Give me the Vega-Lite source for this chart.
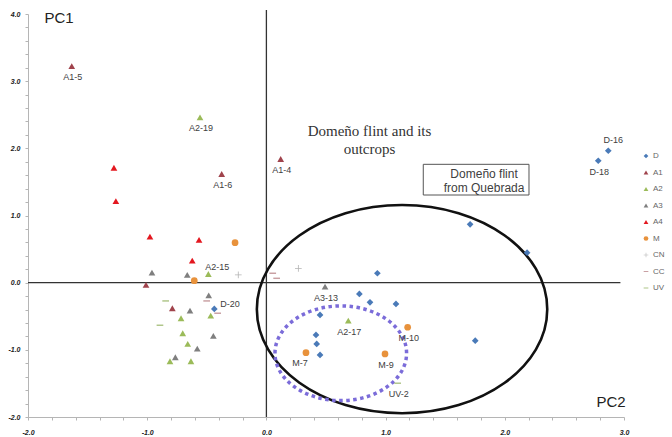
{
  "$schema": "https://vega.github.io/schema/vega-lite/v6.json",
  "width": 596,
  "height": 403,
  "autosize": {"type": "none"},
  "padding": {"left": 28, "top": 14, "right": 48, "bottom": 20},
  "background": "white",
  "config": {
    "view": {"stroke": null},
    "font": "Liberation Sans",
    "axis": {
      "grid": false,
      "title": null,
      "domainColor": "#b5b5b5",
      "tickColor": "#b5b5b5",
      "tickSize": 3,
      "labelFont": "Liberation Sans",
      "labelFontSize": 7,
      "labelFontStyle": "italic",
      "labelFontWeight": "bold",
      "labelColor": "#222222",
      "labelOverlap": false,
      "labelFlush": false,
      "labelBound": false
    }
  },
  "datasets": {
    "pts": [
      {"group": "D", "pc2": 2.868, "pc1": 1.964, "label": "D-16"},
      {"group": "D", "pc2": 2.784, "pc1": 1.815, "label": "D-18"},
      {"group": "D", "pc2": 1.709, "pc1": 0.868, "label": ""},
      {"group": "D", "pc2": 2.187, "pc1": 0.446, "label": ""},
      {"group": "D", "pc2": 0.931, "pc1": 0.140, "label": ""},
      {"group": "D", "pc2": 0.780, "pc1": -0.168, "label": ""},
      {"group": "D", "pc2": 0.869, "pc1": -0.292, "label": ""},
      {"group": "D", "pc2": 1.087, "pc1": -0.317, "label": ""},
      {"group": "D", "pc2": 0.450, "pc1": -0.481, "label": ""},
      {"group": "D", "pc2": 0.416, "pc1": -0.778, "label": ""},
      {"group": "D", "pc2": 0.422, "pc1": -0.912, "label": ""},
      {"group": "D", "pc2": 0.450, "pc1": -1.076, "label": ""},
      {"group": "D", "pc2": 1.752, "pc1": -0.863, "label": ""},
      {"group": "D", "pc2": -0.437, "pc1": -0.391, "label": "D-20"},
      {"group": "A1", "pc2": -1.633, "pc1": 3.225, "label": "A1-5"},
      {"group": "A1", "pc2": -0.375, "pc1": 1.618, "label": "A1-6"},
      {"group": "A1", "pc2": 0.120, "pc1": 1.841, "label": "A1-4"},
      {"group": "A1", "pc2": -1.010, "pc1": -0.034, "label": ""},
      {"group": "A1", "pc2": -0.789, "pc1": -0.381, "label": ""},
      {"group": "A2", "pc2": -0.557, "pc1": 2.461, "label": "A2-19"},
      {"group": "A2", "pc2": -0.487, "pc1": 0.129, "label": "A2-15"},
      {"group": "A2", "pc2": 0.687, "pc1": -0.565, "label": "A2-17"},
      {"group": "A2", "pc2": -0.716, "pc1": -0.530, "label": ""},
      {"group": "A2", "pc2": -0.467, "pc1": -0.491, "label": ""},
      {"group": "A2", "pc2": -0.702, "pc1": -0.753, "label": ""},
      {"group": "A2", "pc2": -0.660, "pc1": -0.912, "label": ""},
      {"group": "A2", "pc2": -0.809, "pc1": -1.170, "label": ""},
      {"group": "A2", "pc2": -0.633, "pc1": -1.170, "label": ""},
      {"group": "A3", "pc2": 0.492, "pc1": -0.060, "label": "A3-13"},
      {"group": "A3", "pc2": -0.960, "pc1": 0.149, "label": ""},
      {"group": "A3", "pc2": -0.664, "pc1": 0.115, "label": ""},
      {"group": "A3", "pc2": -0.484, "pc1": -0.188, "label": ""},
      {"group": "A3", "pc2": -0.641, "pc1": -0.417, "label": ""},
      {"group": "A3", "pc2": -0.445, "pc1": -0.793, "label": ""},
      {"group": "A3", "pc2": -0.580, "pc1": -0.982, "label": ""},
      {"group": "A3", "pc2": -0.764, "pc1": -1.110, "label": ""},
      {"group": "A4", "pc2": -1.279, "pc1": 1.711, "label": ""},
      {"group": "A4", "pc2": -1.263, "pc1": 1.215, "label": ""},
      {"group": "A4", "pc2": -0.977, "pc1": 0.685, "label": ""},
      {"group": "A4", "pc2": -0.565, "pc1": 0.636, "label": ""},
      {"group": "A4", "pc2": -0.622, "pc1": 0.327, "label": ""},
      {"group": "M", "pc2": -0.263, "pc1": 0.595, "label": ""},
      {"group": "M", "pc2": -0.605, "pc1": 0.030, "label": ""},
      {"group": "M", "pc2": 0.332, "pc1": -1.042, "label": "M-7"},
      {"group": "M", "pc2": 0.995, "pc1": -1.061, "label": "M-9"},
      {"group": "M", "pc2": 1.185, "pc1": -0.664, "label": "M-10"},
      {"group": "CN", "pc2": -0.236, "pc1": 0.115, "label": ""},
      {"group": "CN", "pc2": 0.268, "pc1": 0.214, "label": ""},
      {"group": "CC", "pc2": 0.053, "pc1": 0.140, "label": ""},
      {"group": "CC", "pc2": 0.086, "pc1": 0.065, "label": ""},
      {"group": "CC", "pc2": -0.409, "pc1": -0.455, "label": ""},
      {"group": "CC", "pc2": -0.501, "pc1": -0.272, "label": ""},
      {"group": "UV", "pc2": -0.845, "pc1": -0.272, "label": ""},
      {"group": "UV", "pc2": -0.893, "pc1": -0.634, "label": ""},
      {"group": "UV", "pc2": 1.101, "pc1": -1.497, "label": "UV-2"}
    ]
  },
  "encoding": {
    "x": {"type": "quantitative", "scale": {"domain": [-2, 3], "nice": false, "zero": false},
      "axis": {
        "values": [-2,-1.8,-1.6,-1.4,-1.2,-1,-0.8,-0.6,-0.4,-0.2,0,0.2,0.4,0.6,0.8,1,1.2,1.4,1.6,1.8,2,2.2,2.4,2.6,2.8,3],
        "labelExpr": "abs(datum.value - round(datum.value)) < 0.001 ? (datum.value < 0 ? '-' : '') + format(abs(datum.value), '.1f') : ''",
        "labelPadding": 8
      }
    },
    "y": {"type": "quantitative", "scale": {"domain": [-2, 4], "nice": false, "zero": false},
      "axis": {
        "values": [-2,-1.8,-1.6,-1.4,-1.2,-1,-0.8,-0.6,-0.4,-0.2,0,0.2,0.4,0.6,0.8,1,1.2,1.4,1.6,1.8,2,2.2,2.4,2.6,2.8,3,3.2,3.4,3.6,3.8,4],
        "labelExpr": "abs(datum.value - round(datum.value)) < 0.001 ? (datum.value < 0 ? '-' : '') + format(abs(datum.value), '.1f') : ''",
        "labelPadding": 5
      }
    }
  },
  "layer": [
    {
      "data": {"values": [
        {"xa": -2, "xb": 2.97, "ya": 0, "yb": 0},
        {"xa": 0, "xb": 0, "ya": -2, "yb": 4.06}
      ]},
      "mark": {"type": "rule", "color": "#333333", "strokeWidth": 1.3, "clip": false},
      "encoding": {
        "x": {"field": "xa", "type": "quantitative"},
        "x2": {"field": "xb"},
        "y": {"field": "ya", "type": "quantitative"},
        "y2": {"field": "yb"}
      }
    },
    {
      "data": {"values": [{"pc2": 1.138, "pc1": -0.394}]},
      "mark": {"type": "point", "filled": false, "stroke": "#111111", "strokeWidth": 2.6, "opacity": 1,
        "shape": "M-1,0C-1,-0.396,-0.5523,-0.717,0,-0.717C0.5523,-0.717,1,-0.396,1,0C1,0.396,0.5523,0.717,0,0.717C-0.5523,0.717,-1,0.396,-1,0Z",
        "size": 84332},
      "encoding": {
        "x": {"field": "pc2", "type": "quantitative"},
        "y": {"field": "pc1", "type": "quantitative"}
      }
    },
    {
      "data": {"values": [{"pc2": 0.624, "pc1": -1.051}]},
      "mark": {"type": "point", "filled": false, "stroke": "#7b6cd9", "strokeWidth": 3.5, "strokeDash": [3.5, 3.5], "opacity": 1,
        "shape": "M-1,0C-1,-0.397,-0.5523,-0.719,0,-0.719C0.5523,-0.719,1,-0.397,1,0C1,0.397,0.5523,0.719,0,0.719C-0.5523,0.719,-1,0.397,-1,0Z",
        "size": 17319},
      "encoding": {
        "x": {"field": "pc2", "type": "quantitative"},
        "y": {"field": "pc1", "type": "quantitative"}
      }
    },
    {
      "data": {"values": [{"xa": 1.316, "xb": 2.203, "ya": 1.305, "yb": 1.762}]},
      "mark": {"type": "rect", "fill": "white", "stroke": "#555555", "strokeWidth": 1},
      "encoding": {
        "x": {"field": "xa", "type": "quantitative"},
        "x2": {"field": "xb"},
        "y": {"field": "ya", "type": "quantitative"},
        "y2": {"field": "yb"}
      }
    },
    {
      "data": {"values": [
        {"pc2": 1.826, "pc1": 1.613, "t": "Domeño flint"},
        {"pc2": 1.826, "pc1": 1.414, "t": "from Quebrada"}
      ]},
      "mark": {"type": "text", "font": "Liberation Sans", "fontSize": 12, "color": "#404040", "align": "center", "baseline": "middle"},
      "encoding": {
        "x": {"field": "pc2", "type": "quantitative"},
        "y": {"field": "pc1", "type": "quantitative"},
        "text": {"field": "t"}
      }
    },
    {
      "data": {"values": [
        {"pc2": 0.865, "pc1": 2.262, "t": "Domeño flint and its"},
        {"pc2": 0.865, "pc1": 1.990, "t": "outcrops"}
      ]},
      "mark": {"type": "text", "font": "Liberation Serif", "fontSize": 15, "color": "#333333", "align": "center", "baseline": "middle"},
      "encoding": {
        "x": {"field": "pc2", "type": "quantitative"},
        "y": {"field": "pc1", "type": "quantitative"},
        "text": {"field": "t"}
      }
    },
    {
      "data": {"values": [
        {"pc2": -1.740, "pc1": 3.935, "t": "PC1"},
        {"pc2": 2.891, "pc1": -1.771, "t": "PC2"}
      ]},
      "mark": {"type": "text", "font": "Liberation Sans", "fontSize": 15, "color": "#222222", "align": "center", "baseline": "middle", "clip": false},
      "encoding": {
        "x": {"field": "pc2", "type": "quantitative"},
        "y": {"field": "pc1", "type": "quantitative"},
        "text": {"field": "t"}
      }
    },
    {
      "data": {"name": "pts"},
      "mark": {"type": "point", "filled": true, "opacity": 1, "size": 45},
      "encoding": {
        "x": {"field": "pc2", "type": "quantitative"},
        "y": {"field": "pc1", "type": "quantitative"},
        "color": {"field": "group", "type": "nominal",
          "scale": {"domain": ["D","A1","A2","A3","A4","M","CN","CC","UV"],
            "range": ["#4a7ab8","#a0434c","#9bbb59","#7f7f7f","#e3171f","#e8923c","#b3b3b3","#c9a0a3","#b0c68a"]},
          "legend": {"title": null, "orient": "none", "legendX": 614, "legendY": 138,
            "labelFont": "Liberation Sans", "labelFontSize": 8, "labelColor": "#666666",
            "symbolSize": 22, "labelOffset": 3, "rowPadding": 8.5, "padding": 0}
        },
        "shape": {"field": "group", "type": "nominal",
          "scale": {"domain": ["D","A1","A2","A3","A4","M","CN","CC","UV"],
            "range": ["diamond","triangle-up","triangle-up","triangle-up","triangle-up","circle",
              "M-1,-0.12H-0.12V-1H0.12V-0.12H1V0.12H0.12V1H-0.12V0.12H-1Z",
              "M-1,-0.22H1V0.22H-1Z",
              "M-1,-0.22H1V0.22H-1Z"]},
          "legend": {"title": null, "orient": "none", "legendX": 614, "legendY": 138}
        }
      }
    },
    {
      "data": {"name": "pts"},
      "transform": [{"filter": "indexof(['A1-5','A2-19','A1-6','A1-4','D-18','A3-13','A2-17','M-9','M-10','UV-2'], datum.label) >= 0"}],
      "mark": {"type": "text", "fontSize": 9, "color": "#404040", "align": "center", "baseline": "middle", "dy": 11, "dx": 1},
      "encoding": {
        "x": {"field": "pc2", "type": "quantitative"},
        "y": {"field": "pc1", "type": "quantitative"},
        "text": {"field": "label"}
      }
    },
    {
      "data": {"name": "pts"},
      "transform": [{"filter": "datum.label == 'M-7'"}],
      "mark": {"type": "text", "fontSize": 9, "color": "#404040", "align": "center", "baseline": "middle", "dy": 10, "dx": -6},
      "encoding": {
        "x": {"field": "pc2", "type": "quantitative"},
        "y": {"field": "pc1", "type": "quantitative"},
        "text": {"field": "label"}
      }
    },
    {
      "data": {"name": "pts"},
      "transform": [{"filter": "datum.label == 'D-16'"}],
      "mark": {"type": "text", "fontSize": 9, "color": "#404040", "align": "center", "baseline": "middle", "dy": -11, "dx": 5},
      "encoding": {
        "x": {"field": "pc2", "type": "quantitative"},
        "y": {"field": "pc1", "type": "quantitative"},
        "text": {"field": "label"}
      }
    },
    {
      "data": {"name": "pts"},
      "transform": [{"filter": "datum.label == 'A2-15'"}],
      "mark": {"type": "text", "fontSize": 9, "color": "#404040", "align": "center", "baseline": "middle", "dy": -7, "dx": 9},
      "encoding": {
        "x": {"field": "pc2", "type": "quantitative"},
        "y": {"field": "pc1", "type": "quantitative"},
        "text": {"field": "label"}
      }
    },
    {
      "data": {"name": "pts"},
      "transform": [{"filter": "datum.label == 'D-20'"}],
      "mark": {"type": "text", "fontSize": 9, "color": "#404040", "align": "left", "baseline": "middle", "dy": -5, "dx": 6},
      "encoding": {
        "x": {"field": "pc2", "type": "quantitative"},
        "y": {"field": "pc1", "type": "quantitative"},
        "text": {"field": "label"}
      }
    }
  ]
}
